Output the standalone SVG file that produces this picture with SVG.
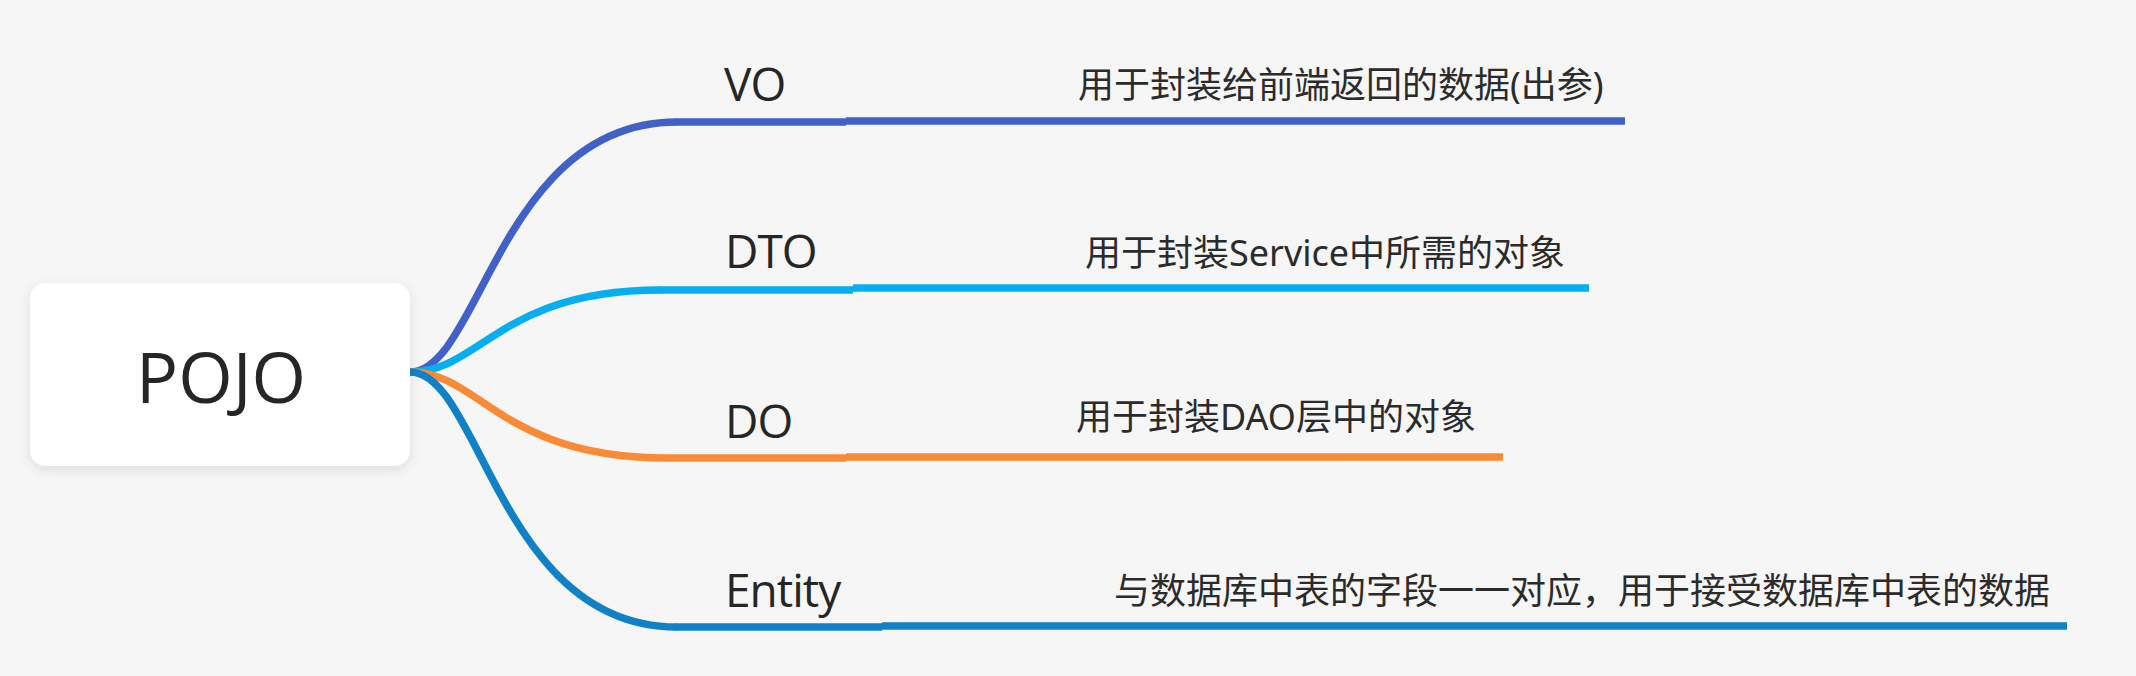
<svg xmlns="http://www.w3.org/2000/svg" width="2136" height="676" viewBox="0 0 2136 676">
  <style>
    .bg { fill: #f6f6f6; }
    .root-box { fill: #ffffff; }
    .root-text { font-family: "Open Sans", "Noto Sans", sans-serif; font-size: 70px; fill: #262626; text-anchor: middle; }
    .topic-text { font-family: "Open Sans", "Noto Sans", sans-serif; font-size: 46px; fill: #262626; letter-spacing: -1px; }
    .sub-text { font-family: "Noto Sans", "Noto Sans CJK SC", sans-serif; font-size: 36px; fill: #2b2b2b; }
    .line { fill: none; stroke-width: 7.5; stroke-linecap: butt; }
    .c-vo { stroke: #4160c8; }
    .c-dto { stroke: #05aef0; }
    .c-do { stroke: #fb8a37; }
    .c-ent { stroke: #1181c7; }
  </style>
  <defs>
    <filter id="shadow" x="-10%" y="-10%" width="120%" height="130%">
      <feDropShadow dx="0" dy="4" stdDeviation="6" flood-color="#000000" flood-opacity="0.10"/>
    </filter>
  </defs>
  <rect class="bg" x="0" y="0" width="2136" height="676"/>

  <g id="connectors">
    <path class="line c-vo" d="M410,372 C480,372 500,122 677,122"/>
    <path class="line c-dto" d="M410,372 C480,372 500,290 660,290"/>
    <path class="line c-do" d="M410,372 C480,372 500,458 667,458"/>
    <path class="line c-ent" d="M410,372 C480,372 500,627 677,627"/>
  </g>

  <g id="node-pojo">
    <rect class="root-box" x="30" y="283" width="380" height="183" rx="16" ry="16" filter="url(#shadow)"/>
    <text class="root-text" x="221" y="403">POJO</text>
  </g>

  <g id="node-vo">
    <path class="line c-vo" d="M676,122 L846,122"/>
    <text class="topic-text" x="724" y="101">VO</text>
  </g>
  <g id="node-dto">
    <path class="line c-dto" d="M659,290 L853,290"/>
    <text class="topic-text" x="725" y="268">DTO</text>
  </g>
  <g id="node-do">
    <path class="line c-do" d="M666,458 L846,458"/>
    <text class="topic-text" x="725" y="438">DO</text>
  </g>
  <g id="node-entity">
    <path class="line c-ent" d="M676,627 L882,627"/>
    <text class="topic-text" x="725" y="607">Entity</text>
  </g>

  <g id="node-vo-desc">
    <path class="line c-vo" d="M846,121 L1625,121"/>
    <text class="sub-text" x="1078" y="98">用于封装给前端返回的数据(出参)</text>
  </g>
  <g id="node-dto-desc">
    <path class="line c-dto" d="M853,288 L1589,288"/>
    <text class="sub-text" x="1085" y="266">用于封装Service中所需的对象</text>
  </g>
  <g id="node-do-desc">
    <path class="line c-do" d="M846,457 L1503,457"/>
    <text class="sub-text" x="1076" y="430">用于封装DAO层中的对象</text>
  </g>
  <g id="node-entity-desc">
    <path class="line c-ent" d="M882,626 L2067,626"/>
    <text class="sub-text" x="1114" y="604">与数据库中表的字段一一对应，用于接受数据库中表的数据</text>
  </g>
</svg>
